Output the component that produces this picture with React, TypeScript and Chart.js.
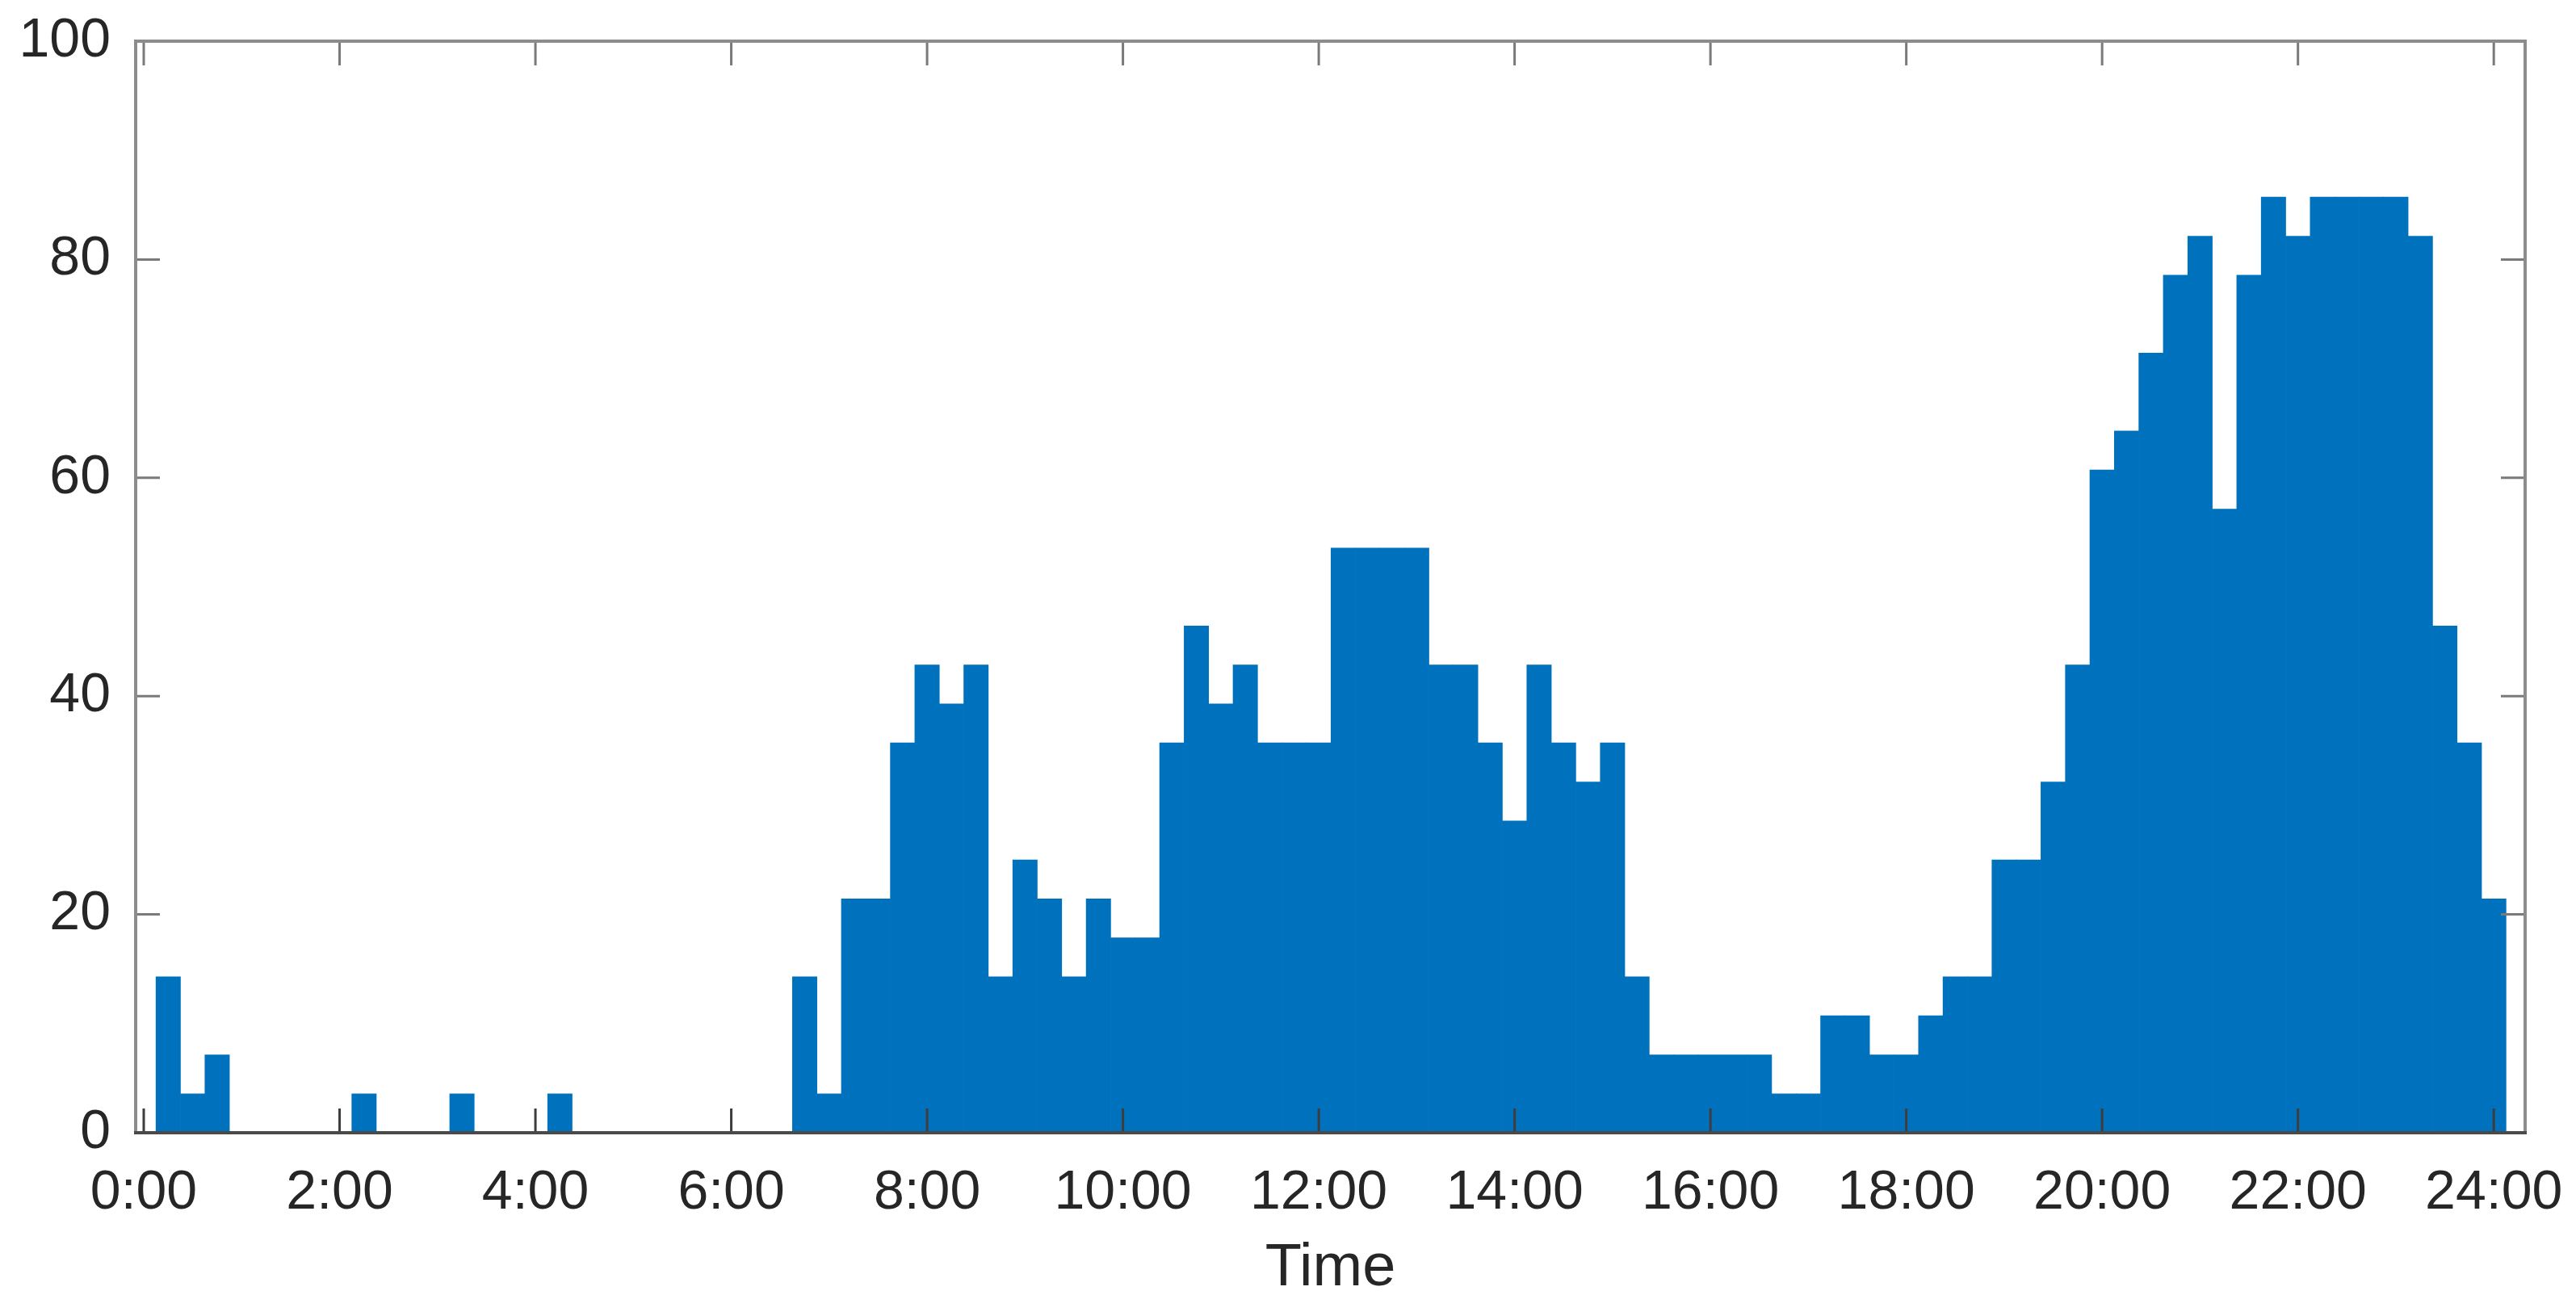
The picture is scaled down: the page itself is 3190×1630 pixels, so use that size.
import { useEffect, useRef } from "react";
import { Chart, registerables } from "chart.js";

Chart.register(...registerables);

// Bin centres (15-minute histogram bins)
const binTimes: string[] = [
  "0:15", "0:30", "0:45", "1:00", "1:15", "1:30", "1:45", "2:00",
  "2:15", "2:30", "2:45", "3:00", "3:15", "3:30", "3:45", "4:00",
  "4:15", "4:30", "4:45", "5:00", "5:15", "5:30", "5:45", "6:00",
  "6:15", "6:30", "6:45", "7:00", "7:15", "7:30", "7:45", "8:00",
  "8:15", "8:30", "8:45", "9:00", "9:15", "9:30", "9:45", "10:00",
  "10:15", "10:30", "10:45", "11:00", "11:15", "11:30", "11:45", "12:00",
  "12:15", "12:30", "12:45", "13:00", "13:15", "13:30", "13:45", "14:00",
  "14:15", "14:30", "14:45", "15:00", "15:15", "15:30", "15:45", "16:00",
  "16:15", "16:30", "16:45", "17:00", "17:15", "17:30", "17:45", "18:00",
  "18:15", "18:30", "18:45", "19:00", "19:15", "19:30", "19:45", "20:00",
  "20:15", "20:30", "20:45", "21:00", "21:15", "21:30", "21:45", "22:00",
  "22:15", "22:30", "22:45", "23:00", "23:15", "23:30", "23:45", "24:00",
];

// Bar heights (percent)
const percentValues: number[] = [
  14.29, 3.57, 7.14, 0, 0, 0, 0, 0,
  3.57, 0, 0, 0, 3.57, 0, 0, 0,
  3.57, 0, 0, 0, 0, 0, 0, 0,
  0, 0, 14.29, 3.57, 21.43, 21.43, 35.71, 42.86,
  39.29, 42.86, 14.29, 25.0, 21.43, 14.29, 21.43, 17.86,
  17.86, 35.71, 46.43, 39.29, 42.86, 35.71, 35.71, 35.71,
  53.57, 53.57, 53.57, 53.57, 42.86, 42.86, 35.71, 28.57,
  42.86, 35.71, 32.14, 35.71, 14.29, 7.14, 7.14, 7.14,
  7.14, 7.14, 3.57, 3.57, 10.71, 10.71, 7.14, 7.14,
  10.71, 14.29, 14.29, 25.0, 25.0, 32.14, 42.86, 60.71,
  64.29, 71.43, 78.57, 82.14, 57.14, 78.57, 85.71, 82.14,
  85.71, 85.71, 85.71, 85.71, 82.14, 46.43, 35.71, 21.43,
];

const xTickHours: number[] = [0, 2, 4, 6, 8, 10, 12, 14, 16, 18, 20, 22, 24];
const yTickValues: number[] = [0, 20, 40, 60, 80, 100];
const xAxisTitle = "Time";

const FONT = "'Liberation Sans', Arial, Helvetica, sans-serif";
const TEXT = "#262626";
const BAR = "rgb(0,114,189)";

function toHours(t: string): number {
  const [h, m] = t.split(":").map(Number);
  return h + m / 60;
}

const boxPlugin = {
  id: "matlabBox",
  afterDraw(chart: any) {
    const { ctx, chartArea: a, scales } = chart;
    const xs = scales.x;
    const ys = scales.y;
    const tickLen = 30;
    ctx.save();
    ctx.lineCap = "butt";
    ctx.lineWidth = 3;
    // bottom ticks (darker)
    ctx.strokeStyle = "#3d3d3d";
    ctx.beginPath();
    for (const h of xTickHours) {
      const px = xs.getPixelForValue(h);
      ctx.moveTo(px, a.bottom);
      ctx.lineTo(px, a.bottom - tickLen);
    }
    ctx.stroke();
    // top, left, right ticks
    ctx.strokeStyle = "#7a7a7a";
    ctx.beginPath();
    for (const h of xTickHours) {
      const px = xs.getPixelForValue(h);
      ctx.moveTo(px, a.top);
      ctx.lineTo(px, a.top + tickLen);
    }
    for (const v of yTickValues) {
      const py = ys.getPixelForValue(v);
      ctx.moveTo(a.left, py);
      ctx.lineTo(a.left + tickLen, py);
      ctx.moveTo(a.right, py);
      ctx.lineTo(a.right - tickLen, py);
    }
    ctx.stroke();
    // box
    ctx.lineWidth = 4;
    ctx.strokeStyle = "#8c8c8c";
    ctx.strokeRect(a.left, a.top, a.right - a.left, a.bottom - a.top);
    ctx.strokeStyle = "#4a4a4a";
    ctx.beginPath();
    ctx.moveTo(a.left - 2, a.bottom);
    ctx.lineTo(a.right + 2, a.bottom);
    ctx.stroke();
    ctx.restore();
  },
};

export default function App() {
  const canvasRef = useRef<HTMLCanvasElement | null>(null);

  useEffect(() => {
    if (!canvasRef.current) return;
    const data = binTimes.map((t, i) => ({ x: toHours(t), y: percentValues[i] }));
    const chart = new Chart(canvasRef.current, {
      type: "bar",
      data: {
        datasets: [
          {
            data: data as any,
            backgroundColor: BAR,
            borderWidth: 0,
            barPercentage: 1,
            categoryPercentage: 1,
          },
        ],
      },
      options: {
        animation: false,
        responsive: true,
        maintainAspectRatio: false,
        layout: { padding: { top: 51, right: 63, left: 0, bottom: 0 } },
        plugins: {
          legend: { display: false },
          tooltip: { enabled: false },
        },
        scales: {
          x: {
            type: "linear",
            offset: false,
            min: -0.0825,
            max: 24.32,
            grid: { display: false, drawTicks: false },
            border: { display: false },
            afterBuildTicks: (s: any) => {
              s.ticks = xTickHours.map((v) => ({ value: v }));
            },
            afterFit: (s: any) => {
              s.height = 227;
              s.paddingLeft = 0;
              s.paddingRight = 0;
            },
            ticks: {
              padding: 34,
              autoSkip: false,
              maxRotation: 0,
              minRotation: 0,
              color: TEXT,
              font: { family: FONT, size: 68 },
              callback: (v: any) => `${v}:00`,
            },
            title: {
              display: true,
              text: xAxisTitle,
              color: TEXT,
              font: { family: FONT, size: 74 },
              padding: { top: 0, bottom: 14 },
            },
          },
          y: {
            min: 0,
            max: 100,
            grid: { display: false, drawTicks: false },
            border: { display: false },
            afterBuildTicks: (s: any) => {
              s.ticks = yTickValues.map((v) => ({ value: v }));
            },
            afterFit: (s: any) => {
              s.width = 168;
              s.paddingTop = 0;
              s.paddingBottom = 0;
            },
            ticks: {
              padding: 31,
              color: TEXT,
              font: { family: FONT, size: 68 },
              callback: (v: any) => String(v),
            },
          },
        },
      } as any,
      plugins: [boxPlugin],
    });
    return () => chart.destroy();
  }, []);

  return (
    <div
      style={{
        position: "fixed",
        left: 0,
        top: 0,
        width: 3190,
        height: 1630,
        background: "#ffffff",
      }}
    >
      <canvas ref={canvasRef} />
    </div>
  );
}
